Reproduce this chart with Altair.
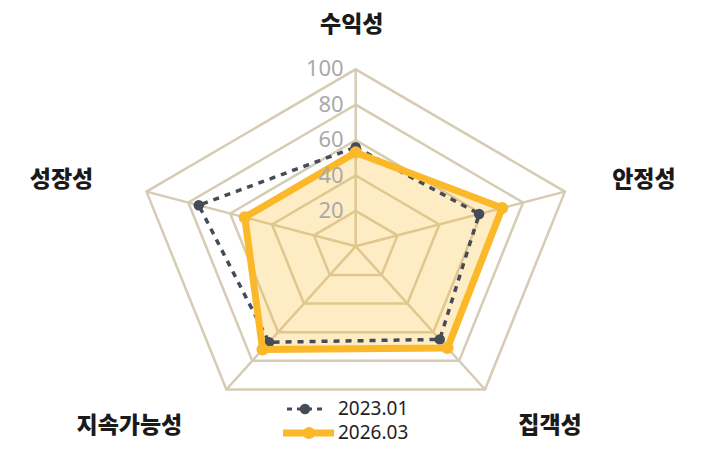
import math
import altair as alt
import pandas as pd

categories = ["수익성", "안정성", "집객성", "지속가능성", "성장성"]
series_names = ["2023.01", "2026.03"]
values_2023 = [56, 59, 65, 67, 75]
values_2026 = [53, 70, 71, 72, 53]
tick_values = [20, 40, 60, 80, 100]
tick_labels = ["20", "40", "60", "80", "100"]

# style / layout (not data)
TOP = 10
W, H = 692, 444 - TOP
CX, CY = 347.7, 238.3 - TOP    # plot-pixel centre of the radar
PX_X, PX_Y = 2.2, 1.77         # pixels per unit (horizontally stretched)
XMIN, XMAX = -CX / PX_X, (W - CX) / PX_X
YMIN, YMAX = -(H - CY) / PX_Y, CY / PX_Y
label_offsets = [(-4, -44), (79, -12), (65, 37), (-97, 37), (-85, -12)]
FONT = "Noto Sans CJK KR"
NUMFONT = "Noto Sans"
GRID = "#d6ccb4"
ORANGE = "#fbb829"
GRAY = "#454b57"


def polar(i, r):
    a = math.radians(72 * i)
    return r * math.sin(a), r * math.cos(a)


xs = alt.Scale(domain=[XMIN, XMAX], nice=False, zero=False)
ys = alt.Scale(domain=[YMIN, YMAX], nice=False, zero=False)


def X(f="x"):
    return alt.X(f"{f}:Q", scale=xs, axis=None)


def Y(f="y"):
    return alt.Y(f"{f}:Q", scale=ys, axis=None)


ring_rows = []
for t in tick_values:
    for i in range(len(categories)):
        x, y = polar(i, t)
        ring_rows.append({"ring": t, "idx": i, "x": x, "y": y})
rings = pd.DataFrame(ring_rows)

spoke_rows = []
for i, c in enumerate(categories):
    x2, y2 = polar(i, 100)
    spoke_rows.append({"cat": c, "x": 0.0, "y": 0.0, "x2": x2, "y2": y2})
spokes = pd.DataFrame(spoke_rows)


def series_df(name, vals):
    rows = []
    for i, (c, v) in enumerate(zip(categories, vals)):
        x, y = polar(i, v)
        rows.append({"series": name, "cat": c, "idx": i, "value": v, "x": x, "y": y})
    return pd.DataFrame(rows)


d23 = series_df(series_names[0], values_2023)
d26 = series_df(series_names[1], values_2026)

layers = []

# grid rings
layers.append(
    alt.Chart(rings).mark_line(interpolate="linear-closed", color=GRID, strokeWidth=2.5)
    .encode(x=X(), y=Y(), detail="ring:N", order="idx:Q")
)
# spokes
layers.append(
    alt.Chart(spokes).mark_rule(color=GRID, strokeWidth=2.5)
    .encode(x=X(), y=Y(), x2="x2:Q", y2="y2:Q")
)
# orange fill
layers.append(
    alt.Chart(d26).mark_line(interpolate="linear-closed", fill=ORANGE, fillOpacity=0.27,
                             strokeOpacity=0, color=ORANGE)
    .encode(x=X(), y=Y(), order="idx:Q")
)
# gray dashed line + points
layers.append(
    alt.Chart(d23).mark_line(interpolate="linear-closed", color=GRAY, strokeWidth=3.5,
                             strokeDash=[6, 6])
    .encode(x=X(), y=Y(), order="idx:Q")
)
layers.append(
    alt.Chart(d23).mark_circle(color=GRAY, size=110, opacity=1)
    .encode(x=X(), y=Y())
)
# orange line + points
layers.append(
    alt.Chart(d26).mark_line(interpolate="linear-closed", color=ORANGE, strokeWidth=7,
                             strokeJoin="round")
    .encode(x=X(), y=Y(), order="idx:Q")
)
layers.append(
    alt.Chart(d26).mark_circle(color=ORANGE, size=150, opacity=1)
    .encode(x=X(), y=Y())
)

# radial tick labels
ticks_df = pd.DataFrame({"x": [0.0] * len(tick_values), "y": tick_values, "label": tick_labels})
layers.append(
    alt.Chart(ticks_df).mark_text(align="right", baseline="middle", dx=-12, fontSize=22,
                                  color="#a9a9a9", font=NUMFONT)
    .encode(x=X(), y=Y(), text="label:N")
)

# category labels
for i, c in enumerate(categories):
    vx, vy = polar(i, 100)
    dx, dy = label_offsets[i]
    ldf = pd.DataFrame({"x": [vx], "y": [vy], "label": [c]})
    layers.append(
        alt.Chart(ldf).mark_text(align="center", baseline="middle", dx=dx, dy=dy,
                                 fontSize=23, fontWeight=900, color="#1a1a1a", font=FONT)
        .encode(x=X(), y=Y(), text="label:N")
    )

# manual legend
LY1, LY2 = 401 - TOP, 425 - TOP
leg = pd.DataFrame({"series": series_names})
leg23 = leg[leg.series == series_names[0]]
leg26 = leg[leg.series == series_names[1]]
layers.append(
    alt.Chart(leg23).mark_rule(color=GRAY, strokeWidth=3, strokeDash=[5, 5])
    .encode(x=alt.value(279), x2=alt.value(316), y=alt.value(LY1))
)
layers.append(
    alt.Chart(leg23).mark_circle(color=GRAY, size=110, opacity=1)
    .encode(x=alt.value(297), y=alt.value(LY1))
)
layers.append(
    alt.Chart(leg26).mark_rule(color=ORANGE, strokeWidth=7)
    .encode(x=alt.value(275), x2=alt.value(326), y=alt.value(LY2))
)
layers.append(
    alt.Chart(leg26).mark_circle(color=ORANGE, size=150, opacity=1)
    .encode(x=alt.value(301), y=alt.value(LY2))
)
layers.append(
    alt.Chart(leg23).mark_text(align="left", baseline="middle", fontSize=19, color="#222222", font=NUMFONT)
    .encode(x=alt.value(330), y=alt.value(LY1), text="series:N")
)
layers.append(
    alt.Chart(leg26).mark_text(align="left", baseline="middle", fontSize=19, color="#222222", font=NUMFONT)
    .encode(x=alt.value(330), y=alt.value(LY2), text="series:N")
)

chart = (
    alt.layer(*layers)
    .properties(width=W, height=H, autosize=alt.AutoSizeParams(type="none"),
                padding={"top": TOP, "left": 0, "right": 0, "bottom": 0})
    .configure_view(stroke=None)
)

chart.save("out.html", embed_options={"renderer": "svg", "actions": False})
